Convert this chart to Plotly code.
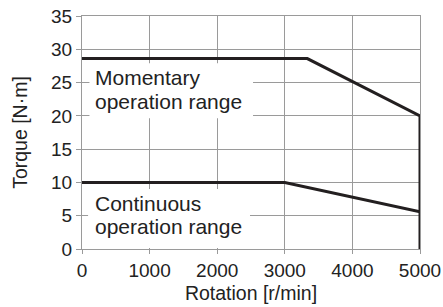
import plotly.graph_objects as go

# Data
momentary_x = [0, 3333, 5000, 5000]
momentary_y = [28.6, 28.6, 20, 0]
continuous_x = [0, 3000, 5000]
continuous_y = [10, 10, 5.6]
x_ticks = [0, 1000, 2000, 3000, 4000, 5000]
y_ticks = [0, 5, 10, 15, 20, 25, 30, 35]
label_momentary = ["Momentary", "operation range"]
label_continuous = ["Continuous", "operation range"]

FONT = "Liberation Sans, Arial, Helvetica, sans-serif"
GRID = "#9a9a9a"
INK = "#231f20"

fig = go.Figure()
fig.add_trace(go.Scatter(x=momentary_x, y=momentary_y, mode="lines",
                         line=dict(color=INK, width=3), showlegend=False,
                         hoverinfo="skip"))
fig.add_trace(go.Scatter(x=continuous_x, y=continuous_y, mode="lines",
                         line=dict(color=INK, width=3), showlegend=False,
                         hoverinfo="skip"))

# white boxes behind the region labels (cover the gridlines)
fig.add_shape(type="rect", xref="x", yref="y", x0=110, x1=2530, y0=19.65, y1=27.9,
              fillcolor="white", line=dict(width=0), layer="between")
fig.add_shape(type="rect", xref="x", yref="y", x0=90, x1=2485, y0=0.15, y1=9.0,
              fillcolor="white", line=dict(width=0), layer="between")

def add_label(lines, ys):
    for txt, yy in zip(lines, ys):
        fig.add_annotation(x=0, xref="paper", xshift=11, xanchor="left",
                           y=yy, yref="y", yanchor="middle", text=txt,
                           showarrow=False, align="left",
                           font=dict(family=FONT, size=21, color="#222"))

add_label(label_momentary, [25.8, 22.15])
add_label(label_continuous, [6.85, 3.35])

axis_common = dict(showgrid=True, gridcolor=GRID, gridwidth=1,
                   showline=True, linecolor=GRID, linewidth=1, mirror=True,
                   ticks="outside", tickcolor=GRID, zeroline=False, automargin=False,
                   ticklabeloverflow="allow",
                   tickfont=dict(family=FONT, size=19, color="#222"))

fig.update_xaxes(range=[0, 5000], tickvals=x_ticks, ticklen=4,
                 title=dict(text="Rotation [r/min]", font=dict(family=FONT, size=19.5, color="#222"), standoff=6),
                 **axis_common)
fig.update_yaxes(range=[0, 35], tickvals=y_ticks, ticklen=5,
                 title=dict(text="Torque [N·m]", font=dict(family=FONT, size=19.5, color="#222"), standoff=18),
                 **axis_common)

fig.update_layout(width=443, height=307, margin=dict(l=82, r=23, t=16, b=58),
                  plot_bgcolor="white", paper_bgcolor="white")

# remove the default 8px page margin so the figure fills the window exactly
fig.write_html("out.html", config={"displayModeBar": False},
               post_script="document.body.style.margin='0';document.body.style.overflow='hidden';")
